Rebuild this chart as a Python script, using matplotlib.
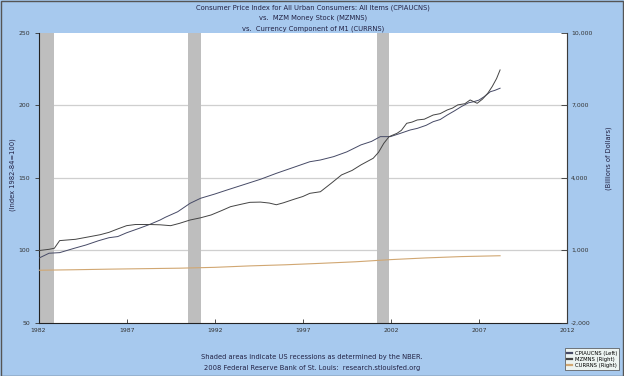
import numpy as np
import matplotlib.pyplot as plt
from matplotlib.patches import Rectangle
from matplotlib.ticker import FuncFormatter

# CPI (left axis, index 1982-84=100)
cpi_year = [1982.0, 1982.6, 1983.2, 1984.0, 1984.7, 1985.4, 1986.0, 1986.5, 1987.0, 1987.7,
            1988.3, 1988.9, 1989.2, 1989.9, 1990.6, 1991.2, 1992.0, 1992.7, 1993.6, 1994.6,
            1995.5, 1996.5, 1997.4, 1998.0, 1998.75, 1999.5, 2000.3, 2000.9, 2001.4, 2001.97,
            2002.5, 2003.1, 2003.5, 2004.0, 2004.4, 2004.8, 2005.2, 2005.6, 2006.0, 2006.4,
            2006.7, 2007.0, 2007.3, 2007.65, 2007.9, 2008.2]
cpi_val = [94.4, 97.9, 98.3, 101.2, 103.6, 106.5, 108.6, 109.4, 112.0, 115.0,
           117.7, 120.8, 122.7, 126.5, 132.3, 135.8, 138.7, 141.5, 145.0, 148.9,
           153.0, 157.2, 161.0, 162.2, 164.5, 167.8, 172.6, 175.0, 178.3, 178.3,
           180.4, 182.9, 184.0, 186.1, 188.6, 190.1, 193.2, 196.0, 199.0, 201.6,
           202.4, 203.5, 205.9, 209.3, 210.2, 211.7]

# MZM money stock (right axis, billions)
mzm_year = [1982.0, 1982.6, 1982.9, 1983.2, 1984.1, 1984.9, 1985.5, 1986.0, 1986.5, 1987.0,
            1987.5, 1988.3, 1988.9, 1989.5, 1990.0, 1990.6, 1991.2, 1991.8, 1992.4, 1992.9,
            1993.5, 1994.0, 1994.6, 1995.1, 1995.5, 1995.9, 1996.5, 1997.0, 1997.4, 1998.0,
            1998.6, 1999.2, 1999.8, 2000.3, 2001.0, 2001.3, 2001.6, 2001.9, 2002.35, 2002.6,
            2002.9, 2003.2, 2003.5, 2003.9, 2004.4, 2004.8, 2005.2, 2005.5, 2005.8, 2006.2,
            2006.5, 2006.9, 2007.2, 2007.5, 2007.75, 2008.0, 2008.2]
mzm_val = [982, 1036, 1080, 1396, 1450, 1558, 1640, 1738, 1880, 2014,
           2062, 2062, 2050, 2014, 2110, 2248, 2340, 2458, 2640, 2800,
           2900, 2980, 2990, 2950, 2880, 2960, 3106, 3220, 3352, 3418,
           3760, 4114, 4300, 4528, 4804, 5050, 5422, 5698, 5836, 5960,
           6250, 6300, 6388, 6420, 6592, 6650, 6802, 6880, 7012, 7060,
           7216, 7078, 7250, 7492, 7768, 8100, 8458]

# Currency component of M1 (right axis, billions)
cur_year = [1982.0, 1984.0, 1986.0, 1988.0, 1990.0, 1992.0, 1994.0, 1996.0, 1998.0,
            2000.0, 2002.0, 2004.0, 2006.0, 2008.2]
cur_val = [170, 190, 215, 235, 255, 290, 350, 395, 455, 520, 610, 680, 735, 770]

recessions = [(1981.5, 1982.9), (1990.5, 1991.2), (2001.2, 2001.9)]
x_ticks = [1982, 1987, 1992, 1997, 2002, 2007, 2012]
left_ticks = [50, 100, 150, 200, 250]
right_ticks = [-2000, 1000, 4000, 7000, 10000]

bg = '#A7C9EE'
fs = 4.4

fig = plt.figure(figsize=(6.24, 3.76), dpi=100, facecolor=bg)
ax = fig.add_axes([0.0617, 0.1418, 0.8470, 0.7713])
ax.set_facecolor('white')
ax2 = ax.twinx()

for y in [100, 150, 200]:
    ax.axhline(y, color='#CFCFCF', lw=0.9, zorder=1)
for a, b in recessions:
    ax.axvspan(a, b, color='#BEBEBE', lw=0, zorder=2)

l1, = ax.plot(cpi_year, cpi_val, color='#464A66', lw=0.7, zorder=3)
l2, = ax2.plot(mzm_year, mzm_val, color='#444444', lw=0.7)
l3, = ax2.plot(cur_year, cur_val, color='#D1A772', lw=0.8)

ax.set_xlim(1982, 2012)
ax.set_ylim(50, 250)
ax2.set_ylim(-2000, 10000)
ax.set_xticks(x_ticks)
ax.set_yticks(left_ticks)
ax2.set_yticks(right_ticks)
ax2.yaxis.set_major_formatter(FuncFormatter(lambda v, p: f'{int(v):,}'))

ax.tick_params(axis='x', direction='in', length=3, width=0.6, pad=4, labelsize=fs, colors='#333333')
ax.tick_params(axis='y', direction='out', length=3, width=0.6, pad=3, labelsize=fs, colors='#333333')
ax2.tick_params(axis='y', direction='in', length=4, width=0.6, pad=3, labelsize=fs, colors='#333333')

ax.spines['top'].set_visible(False)
ax2.spines['top'].set_visible(False)
for s in ['left', 'bottom']:
    ax.spines[s].set_color('#222222')
    ax.spines[s].set_linewidth(0.8)
ax2.spines['left'].set_visible(False)
ax2.spines['bottom'].set_visible(False)
ax2.spines['right'].set_color('#555555')
ax2.spines['right'].set_linewidth(0.5)

tfs = 4.9
fig.text(0.502, 0.979, 'Consumer Price Index for All Urban Consumers: All Items (CPIAUCNS)',
         ha='center', va='center', fontsize=tfs, color='#222244')
fig.text(0.502, 0.952, 'vs.  MZM Money Stock (MZMNS)',
         ha='center', va='center', fontsize=tfs, color='#222244')
fig.text(0.502, 0.923, 'vs.  Currency Component of M1 (CURRNS)',
         ha='center', va='center', fontsize=tfs, color='#222244')

fig.text(0.021, 0.535, '(Index 1982-84=100)', rotation=90, ha='center', va='center',
         fontsize=tfs, color='#222244')
fig.text(0.976, 0.58, '(Billions of Dollars)', rotation=90, ha='center', va='center',
         fontsize=tfs, color='#222244')

fig.text(0.50, 0.051, 'Shaded areas indicate US recessions as determined by the NBER.',
         ha='center', va='center', fontsize=tfs, color='#222244')
fig.text(0.50, 0.021, '2008 Federal Reserve Bank of St. Louis:  research.stlouisfed.org',
         ha='center', va='center', fontsize=tfs, color='#222244')

leg = fig.legend([l1, l2, l3], ['CPIAUCNS (Left)', 'MZMNS (Right)', 'CURRNS (Right)'],
                 loc='lower right', bbox_to_anchor=(0.997, 0.008), fontsize=3.8,
                 frameon=True, fancybox=False, handlelength=1.0, handletextpad=0.5,
                 borderpad=0.4, labelspacing=0.25)
leg.get_frame().set_facecolor('#FFFFF4')
leg.get_frame().set_edgecolor('#444444')
leg.get_frame().set_linewidth(0.6)
for h in leg.legend_handles:
    h.set_linewidth(1.6)

fig.patches.append(Rectangle((0.001, 0.001), 0.997, 0.997, transform=fig.transFigure,
                             fill=False, edgecolor='#555555', lw=1.0))

fig.savefig('out.png', dpi=100, facecolor=bg)
